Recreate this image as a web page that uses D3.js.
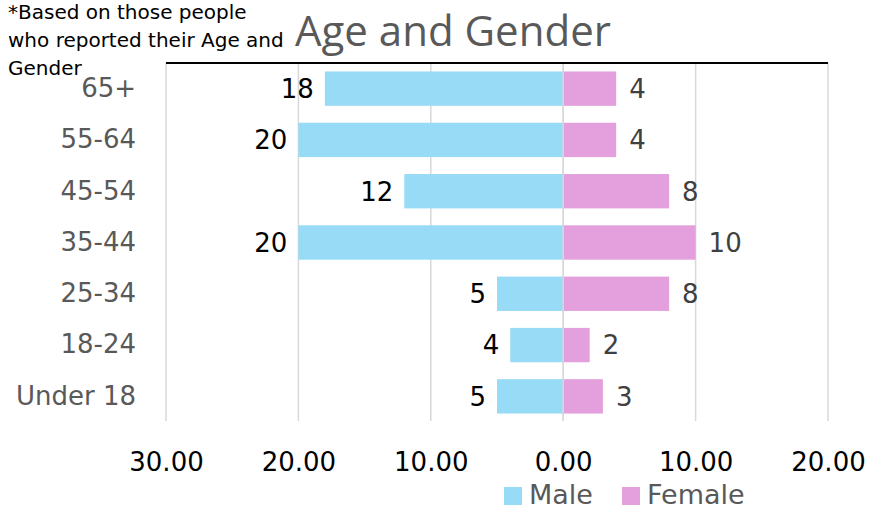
<!DOCTYPE html>
<html>
<head>
<meta charset="utf-8">
<script src="https://cdn.jsdelivr.net/npm/d3@7"></script>
<style>
  html, body { margin: 0; padding: 0; background: #fff; }
  svg { display: block; font-family: "DejaVu Sans", "Noto Sans", sans-serif; }
</style>
</head>
<body>
<svg id="chart" width="872" height="506"></svg>
<script>
// Age groups, top to bottom
const ageGroups = ["65+", "55-64", "45-54", "35-44", "25-34", "18-24", "Under 18"];
// Respondent counts per age group
const maleCounts = [18, 20, 12, 20, 5, 4, 5];
const femaleCounts = [4, 4, 8, 10, 8, 2, 3];
// Horizontal axis ticks (male side drawn as negative values)
const axisTicks = [-30, -20, -10, 0, 10, 20];
const seriesNames = ["Male", "Female"];
const seriesColors = ["#97dbf6", "#e3a0dc"];

const svg = d3.select("#chart");

const x = d3.scaleLinear().domain([-30, 20]).range([166, 828]);
const y = d3.scaleBand().domain(ageGroups).range([63, 422])
  .paddingInner(0.33).paddingOuter(0.165);

// Vertical gridlines
svg.append("g")
  .selectAll("line")
  .data(axisTicks)
  .join("line")
  .attr("x1", d => x(d)).attr("x2", d => x(d))
  .attr("y1", 63).attr("y2", 421)
  .attr("stroke", "#d9d9d9").attr("stroke-width", 1.5);

// Bars
const rows = ageGroups.map((g, i) => ({ group: g, male: maleCounts[i], female: femaleCounts[i] }));

svg.append("g").selectAll("rect")
  .data(rows).join("rect")
  .attr("x", d => x(-d.male))
  .attr("y", d => y(d.group))
  .attr("width", d => x(0) - x(-d.male))
  .attr("height", y.bandwidth())
  .attr("fill", seriesColors[0]);

svg.append("g").selectAll("rect")
  .data(rows).join("rect")
  .attr("x", x(0))
  .attr("y", d => y(d.group))
  .attr("width", d => x(d.female) - x(0))
  .attr("height", y.bandwidth())
  .attr("fill", seriesColors[1]);

// Zero line separating the two sides
svg.append("line")
  .attr("x1", x(0)).attr("x2", x(0))
  .attr("y1", 63).attr("y2", 421)
  .attr("stroke", "#d9d9d9").attr("stroke-width", 1.5);

// Value labels
svg.append("g").selectAll("text")
  .data(rows).join("text")
  .attr("x", d => x(-d.male) - 11)
  .attr("y", d => y(d.group) + y.bandwidth() / 2)
  .attr("dy", "0.36em")
  .attr("text-anchor", "end")
  .attr("font-size", 26)
  .attr("fill", "#000")
  .text(d => d.male);

svg.append("g").selectAll("text")
  .data(rows).join("text")
  .attr("x", d => x(d.female) + 13)
  .attr("y", d => y(d.group) + y.bandwidth() / 2)
  .attr("dy", "0.36em")
  .attr("text-anchor", "start")
  .attr("font-size", 26)
  .attr("fill", "#404040")
  .text(d => d.female);

// Category axis labels
const yAxis = d3.axisLeft(y).tickSize(0).tickPadding(0);
const gy = svg.append("g").attr("transform", "translate(136,0)").call(yAxis);
gy.select(".domain").remove();
gy.selectAll("text")
  .attr("font-size", 26)
  .attr("font-family", "DejaVu Sans, sans-serif")
  .attr("fill", "#595959");

// Top axis line
svg.append("line")
  .attr("x1", x(-30)).attr("x2", x(20))
  .attr("y1", 63).attr("y2", 63)
  .attr("stroke", "#000").attr("stroke-width", 2);

// Value axis labels at the bottom
const xAxis = d3.axisBottom(x).tickValues(axisTicks).tickSize(0).tickPadding(0)
  .tickFormat(d => d3.format(".2f")(Math.abs(d)));
const gx = svg.append("g").attr("transform", "translate(0,453)").call(xAxis);
gx.select(".domain").remove();
gx.selectAll("text")
  .attr("font-size", 26)
  .attr("font-family", "DejaVu Sans, sans-serif")
  .attr("fill", "#000");

// Title
svg.append("text")
  .attr("x", 295).attr("y", 46)
  .attr("font-family", "Open Sans, sans-serif")
  .attr("font-size", 42)
  .attr("fill", "#595959")
  .text("Age and Gender");

// Footnote
const note = svg.append("text")
  .attr("font-size", 20)
  .attr("fill", "#000");
["*Based on those people", "who reported their Age and", "Gender"].forEach((line, i) => {
  note.append("tspan").attr("x", 8).attr("y", 19 + i * 28).text(line);
});

// Legend
const legend = svg.append("g");
const legendX = [504, 622];
seriesNames.forEach((name, i) => {
  legend.append("rect")
    .attr("x", legendX[i]).attr("y", 487)
    .attr("width", 18).attr("height", 18)
    .attr("fill", seriesColors[i]);
  legend.append("text")
    .attr("x", legendX[i] + 25).attr("y", 504)
    .attr("font-size", 27)
    .attr("fill", "#595959")
    .text(name);
});
</script>
</body>
</html>
